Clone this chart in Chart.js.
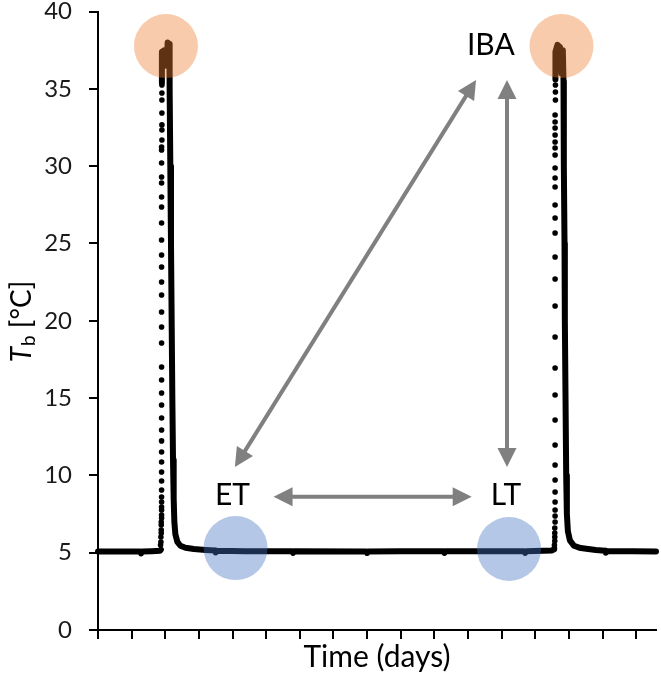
<!DOCTYPE html>
<html>
<head>
<meta charset="utf-8">
<script src="https://cdn.jsdelivr.net/npm/chart.js@4.4.1/dist/chart.umd.min.js"></script>
<style>
  html, body { margin: 0; padding: 0; background: #ffffff; }
  #wrap { width: 661px; height: 675px; }
</style>
</head>
<body>
<div id="wrap"><canvas id="tb-chart" width="661" height="675"></canvas></div>
<script>
// Axis ranges (x in day ticks, y in degrees C)
const yTicks = [0, 5, 10, 15, 20, 25, 30, 35, 40];
const xRange = [0, 16.59];

// Dense Tb trace (null = break in the line)
const traceTime = [
  0, 0.6, 1.26, 1.28, 1.31, 1.6, 1.84, 1.87, null,
  1.9, 1.9, 1.97, 1.99, 2.05, 2.07, 2.12, 2.13, 2.15, 2.17, 2.19, 2.21, 2.23, 2.25, 2.27, 2.3, 2.36, 2.45, 2.6, 2.85,
  3.2, 3.48, 3.5, 3.53, 4.4, 5.78, 5.8, 5.83, 7.98, 8.0, 8.03, 9.0, 10.28, 10.3, 10.33, 11.5, 12.68, 12.7, 12.73, 13.5, 13.56, null,
  13.6, 13.6, 13.66, 13.74, 13.78, 13.82, 13.84, 13.85, 13.87, 13.88, 13.9, 13.92, 13.94, 13.97, 14.03, 14.15, 14.35, 14.8,
  15.08, 15.1, 15.13, 15.9, 16.59
];
const traceTemp = [
  5.08, 5.08, 5.07, 4.95, 5.07, 5.1, 5.12, 5.2, null,
  35.4, 37.4, 37.5, 36.5, 36.8, 38.0, 37.9, 35.0, 30, 25, 20, 15, 11, 8.5, 7.0, 6.2, 5.7, 5.45, 5.32, 5.24,
  5.18, 5.14, 5.02, 5.13, 5.1, 5.1, 4.98, 5.09, 5.08, 4.98, 5.08, 5.1, 5.09, 4.98, 5.09, 5.1, 5.1, 4.98, 5.1, 5.15, 5.22, null,
  35.6, 37.4, 37.85, 37.7, 36.0, 37.5, 35.5, 30, 25, 20, 15, 10, 7.5, 6.4, 5.8, 5.45, 5.3, 5.18,
  5.12, 5.0, 5.11, 5.1, 5.08
];

// Sparse rewarming points (first arousal)
const rise1Time = [
  1.86, 1.87, 1.87, 1.88, 1.88, 1.88, 1.88, 1.89, 1.89, 1.89, 1.89, 1.89, 1.89, 1.89, 1.89, 1.89,
  1.89, 1.89, 1.89, 1.89, 1.89, 1.89, 1.89, 1.89, 1.89, 1.89, 1.89, 1.89, 1.89, 1.89, 1.89, 1.89,
  1.89, 1.89, 1.89, 1.89, 1.89, 1.89, 1.89, 1.89, 1.89, 1.9, 1.9, 1.9, 1.9, 1.9, 1.9, 1.9
];
const rise1Temp = [
  5.50, 5.69, 6.02, 6.27, 6.47, 6.79, 6.99, 7.24, 7.44, 7.76, 7.96, 8.28, 8.60, 9.06, 9.64, 10.22,
  10.87, 11.51, 12.23, 12.94, 13.71, 14.55, 15.33, 16.17, 17.01, 18.56, 19.60, 20.57, 21.67, 22.51, 23.48, 24.26,
  25.23, 26.33, 27.36, 28.01, 28.91, 29.30, 30.21, 31.05, 31.24, 31.69, 32.34, 32.67, 33.44, 34.28, 34.73, 35.25
];

// Sparse rewarming points (second arousal)
const rise2Time = [
  13.57, 13.57, 13.58, 13.58, 13.58, 13.58, 13.59, 13.59, 13.59, 13.59, 13.59, 13.59, 13.59,
  13.59, 13.59, 13.59, 13.59, 13.59, 13.59, 13.59, 13.59, 13.59, 13.59, 13.59, 13.59,
  13.59, 13.59, 13.59, 13.59, 13.59, 13.59, 13.59, 13.59, 13.59, 13.6, 13.6, 13.6
];
const rise2Temp = [
  5.30, 5.50, 5.76, 6.02, 6.27, 6.60, 6.99, 7.37, 7.76, 8.28, 8.93, 9.70, 10.67,
  11.97, 13.58, 15.20, 16.95, 18.95, 20.96, 22.70, 24.13, 25.68, 26.65, 27.49, 28.65,
  29.24, 29.88, 30.72, 31.18, 31.57, 32.02, 32.47, 32.86, 33.31, 34.28, 34.80, 35.25
];

// Highlight circles (IBA peaks, ET / LT torpor)
const ibaTime = [2.02, 13.78];
const ibaTemp = [37.77, 37.77];
const torporTime = [4.09, 12.22];
const torporTemp = [5.30, 5.24];

// Phase labels and arrows, in data units
const phaseLabels = ["IBA", "ET", "LT"];
const phaseLabelTime = [11.68, 4.0, 12.13];
const phaseLabelTemp = [37.84, 8.73, 8.73];
const arrowFrom = [[4.07, 10.54], [12.16, 10.54], [5.22, 8.62]];
const arrowTo = [[11.24, 35.58], [12.16, 35.58], [11.11, 8.62]];

const FONT = "Lato, 'Open Sans', sans-serif";

function toPoints(xs, ys) {
  return xs.map((x, i) => ({ x: x, y: ys[i] }));
}

// Hai đầu mũi tên
function drawHead(ctx, x, y, ang) {
  const len = 19, half = 9.5;
  ctx.beginPath();
  ctx.moveTo(x, y);
  ctx.lineTo(x - len * Math.cos(ang) + half * Math.sin(ang), y - len * Math.sin(ang) - half * Math.cos(ang));
  ctx.lineTo(x - len * Math.cos(ang) - half * Math.sin(ang), y - len * Math.sin(ang) + half * Math.cos(ang));
  ctx.closePath();
  ctx.fill();
}

function drawArrow(ctx, x1, y1, x2, y2) {
  const ang = Math.atan2(y2 - y1, x2 - x1);
  const cut = 15;
  ctx.beginPath();
  ctx.moveTo(x1 + cut * Math.cos(ang), y1 + cut * Math.sin(ang));
  ctx.lineTo(x2 - cut * Math.cos(ang), y2 - cut * Math.sin(ang));
  ctx.stroke();
  drawHead(ctx, x2, y2, ang);
  drawHead(ctx, x1, y1, ang + Math.PI);
}

const overlayPlugin = {
  id: "overlay",
  afterDatasetsDraw(chart) {
    const ctx = chart.ctx;
    const xs = chart.scales.x;
    const ys = chart.scales.y;
    ctx.save();

    // mũi tên xám
    ctx.strokeStyle = "#808080";
    ctx.fillStyle = "#808080";
    ctx.lineWidth = 4;
    arrowFrom.forEach((p, i) => {
      const q = arrowTo[i];
      drawArrow(ctx, xs.getPixelForValue(p[0]), ys.getPixelForValue(p[1]),
        xs.getPixelForValue(q[0]), ys.getPixelForValue(q[1]));
    });

    // nhãn giai đoạn
    ctx.fillStyle = "#000000";
    ctx.font = "30px " + FONT;
    ctx.textAlign = "center";
    ctx.textBaseline = "middle";
    phaseLabels.forEach((t, i) => {
      ctx.fillText(t, xs.getPixelForValue(phaseLabelTime[i]), ys.getPixelForValue(phaseLabelTemp[i]));
    });

    // tiêu đề trục x
    const area = chart.chartArea;
    ctx.font = "30px " + FONT;
    ctx.fillText("Time (days)", (area.left + area.right) / 2, 657);

    // tiêu đề trục y: T_b [°C]
    ctx.translate(22, 322);
    ctx.rotate(-Math.PI / 2);
    ctx.textAlign = "left";
    const fT = "italic 28px " + FONT, fSub = "19px " + FONT, fRest = "28px " + FONT;
    ctx.font = fT; const wT = ctx.measureText("T").width;
    ctx.font = fSub; const wB = ctx.measureText("b").width;
    ctx.font = fRest; const wR = ctx.measureText(" [°C]").width;
    let x0 = -(wT + wB + wR) / 2;
    ctx.font = fT; ctx.fillText("T", x0, 0); x0 += wT + 1;
    ctx.font = fSub; ctx.fillText("b", x0, 7); x0 += wB;
    ctx.font = fRest; ctx.fillText(" [°C]", x0, 0);
    ctx.restore();
  }
};

const ctx = document.getElementById("tb-chart").getContext("2d");
new Chart(ctx, {
  type: "scatter",
  data: {
    datasets: [
      {
        type: "bubble",
        label: "IBA",
        data: ibaTime.map((x, i) => ({ x: x, y: ibaTemp[i], r: 32 })),
        backgroundColor: "rgba(237,125,49,0.4)",
        borderWidth: 0,
        clip: false,
        order: 0
      },
      {
        type: "bubble",
        label: "Torpor",
        data: torporTime.map((x, i) => ({ x: x, y: torporTemp[i], r: 32 })),
        backgroundColor: "rgba(68,114,196,0.4)",
        borderWidth: 0,
        clip: false,
        order: 0
      },
      {
        label: "Tb trace",
        data: toPoints(traceTime, traceTemp),
        showLine: true,
        spanGaps: false,
        borderColor: "#000000",
        borderWidth: 6,
        borderJoinStyle: "round",
        borderCapStyle: "round",
        pointRadius: 0,
        tension: 0,
        clip: false,
        order: 1
      },
      {
        label: "Rewarming 1",
        data: toPoints(rise1Time, rise1Temp),
        pointRadius: 2.8,
        pointBackgroundColor: "#000000",
        pointBorderWidth: 0,
        order: 1
      },
      {
        label: "Rewarming 2",
        data: toPoints(rise2Time, rise2Temp),
        pointRadius: 2.8,
        pointBackgroundColor: "#000000",
        pointBorderWidth: 0,
        order: 1
      }
    ]
  },
  options: {
    responsive: false,
    devicePixelRatio: 1,
    animation: false,
    events: [],
    layout: { autoPadding: false, padding: { top: 11.6, right: 5, bottom: 0, left: 0 } },
    plugins: {
      legend: { display: false },
      tooltip: { enabled: false }
    },
    scales: {
      x: {
        type: "linear",
        min: xRange[0],
        max: xRange[1],
        border: { display: true, color: "#000000", width: 2 },
        grid: { display: true, drawOnChartArea: false, drawTicks: true, tickLength: 9, color: "#000000", lineWidth: 2 },
        ticks: { stepSize: 1, includeBounds: false, autoSkip: false, callback: () => "" },
        afterFit(s) {
          s.height = 45;
          s.paddingLeft = 0;
          s.paddingRight = 0;
        }
      },
      y: {
        min: yTicks[0],
        max: yTicks[yTicks.length - 1],
        border: { display: true, color: "#000000", width: 2 },
        grid: { display: true, drawOnChartArea: false, drawTicks: true, tickLength: 9, color: "#000000", lineWidth: 2 },
        ticks: {
          stepSize: 5,
          padding: 17,
          color: "#1a1a1a",
          font: { family: FONT, size: 24 }
        },
        afterFit(s) {
          s.width = 98;
          s.paddingTop = 0;
          s.paddingBottom = 0;
        }
      }
    }
  },
  plugins: [overlayPlugin]
});
</script>
</body>
</html>
